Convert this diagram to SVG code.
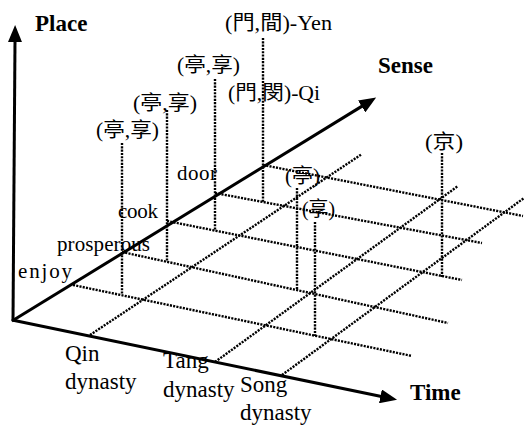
<svg xmlns="http://www.w3.org/2000/svg" width="526" height="426" viewBox="0 0 526 426">
<defs>
<marker id="ah" markerUnits="userSpaceOnUse" markerWidth="18" markerHeight="14" refX="1" refY="7" orient="auto">
<path d="M0,0 L17,7 L0,14 z" fill="#000"/>
</marker>
<style>
.ax{stroke:#000;stroke-width:3;fill:none;marker-end:url(#ah)}
.dot{stroke:#000;stroke-width:2.4;stroke-dasharray:2.1 1.2;fill:none}
text{font-family:"Liberation Serif","Noto Sans CJK TC",serif;fill:#000}
.t{font-size:21px}
.c{font-size:20px}
.b{font-size:23px;font-weight:bold}
.d{font-size:23px}
</style>
</defs>
<rect width="526" height="426" fill="#fff"/>
<g id="connectors">
<line class="dot" x1="73" y1="285" x2="412" y2="356"/>
<line class="dot" x1="122" y1="252" x2="448" y2="323"/>
<line class="dot" x1="167" y1="221" x2="462" y2="280"/>
<line class="dot" x1="215" y1="193" x2="482" y2="243"/>
<line class="dot" x1="263" y1="165" x2="523" y2="216"/>
<line class="dot" x1="90" y1="335" x2="362" y2="154"/>
<line class="dot" x1="215" y1="362" x2="458" y2="186"/>
<line class="dot" x1="282" y1="375" x2="524" y2="198"/>
<line class="dot" x1="122" y1="143" x2="122" y2="294"/>
<line class="dot" x1="167" y1="110" x2="167" y2="262"/>
<line class="dot" x1="215" y1="79" x2="215" y2="231"/>
<line class="dot" x1="263" y1="38" x2="263" y2="202"/>
<line class="dot" x1="297" y1="188" x2="297" y2="290"/>
<line class="dot" x1="315" y1="222" x2="315" y2="336"/>
<line class="dot" x1="442" y1="153" x2="442" y2="277"/>
<line class="ax" x1="13" y1="321" x2="15" y2="41"/>
<line class="ax" x1="12" y1="320" x2="381.4" y2="396.5"/>
<line class="ax" x1="12" y1="321" x2="362.5" y2="105.9"/>
</g>
<g id="axis-labels">
<text id="place" class="b" x="35" y="31">Place</text>
<text id="sense" class="b" x="378" y="73">Sense</text>
<text id="time" class="b" x="410" y="400">Time</text>
</g>
<g id="sense-enjoy"><text class="t" x="18" y="278" textLength="54" lengthAdjust="spacing">enjoy</text></g>
<g id="sense-prosperous"><text class="t" x="57" y="251" textLength="93" lengthAdjust="spacing">prosperous</text></g>
<g id="sense-cook"><text class="t" x="118" y="218" textLength="40" lengthAdjust="spacing">cook</text></g>
<g id="sense-door"><text class="t" x="177" y="180" textLength="40" lengthAdjust="spacing">door</text></g>
<g id="time-qin"><text class="d" x="65" y="361">Qin</text><text class="d" x="65" y="389">dynasty</text></g>
<g id="time-tang"><text class="d" x="163" y="368">Tang</text><text class="d" x="163" y="397">dynasty</text></g>
<g id="time-song"><text class="d" x="240" y="392">Song</text><text class="d" x="240" y="420">dynasty</text></g>
<g id="label-yen"><text class="c" x="225" y="29.5" textLength="107" lengthAdjust="spacingAndGlyphs">(門,間)-Yen</text></g>
<g id="label-qi"><text class="c" x="228" y="99.5" textLength="92" lengthAdjust="spacingAndGlyphs">(門,閔)-Qi</text></g>
<g id="label-ting1"><text class="c" x="177" y="71.5" textLength="63" lengthAdjust="spacingAndGlyphs">(亭,享)</text></g>
<g id="label-ting2"><text class="c" x="133" y="109.5" textLength="64" lengthAdjust="spacingAndGlyphs">(亭,享)</text></g>
<g id="label-ting3"><text class="c" x="96" y="136.5" textLength="63" lengthAdjust="spacingAndGlyphs">(亭,享)</text></g>
<g id="label-jing"><text class="c" x="425" y="148.5" textLength="38" lengthAdjust="spacingAndGlyphs">(京)</text></g>
<g id="label-ting4"><text class="c" x="285" y="183" textLength="35" lengthAdjust="spacingAndGlyphs">(亭)</text></g>
<g id="label-xiang"><text class="c" x="302" y="215.5" textLength="33" lengthAdjust="spacingAndGlyphs">(享)</text></g>
</svg>
